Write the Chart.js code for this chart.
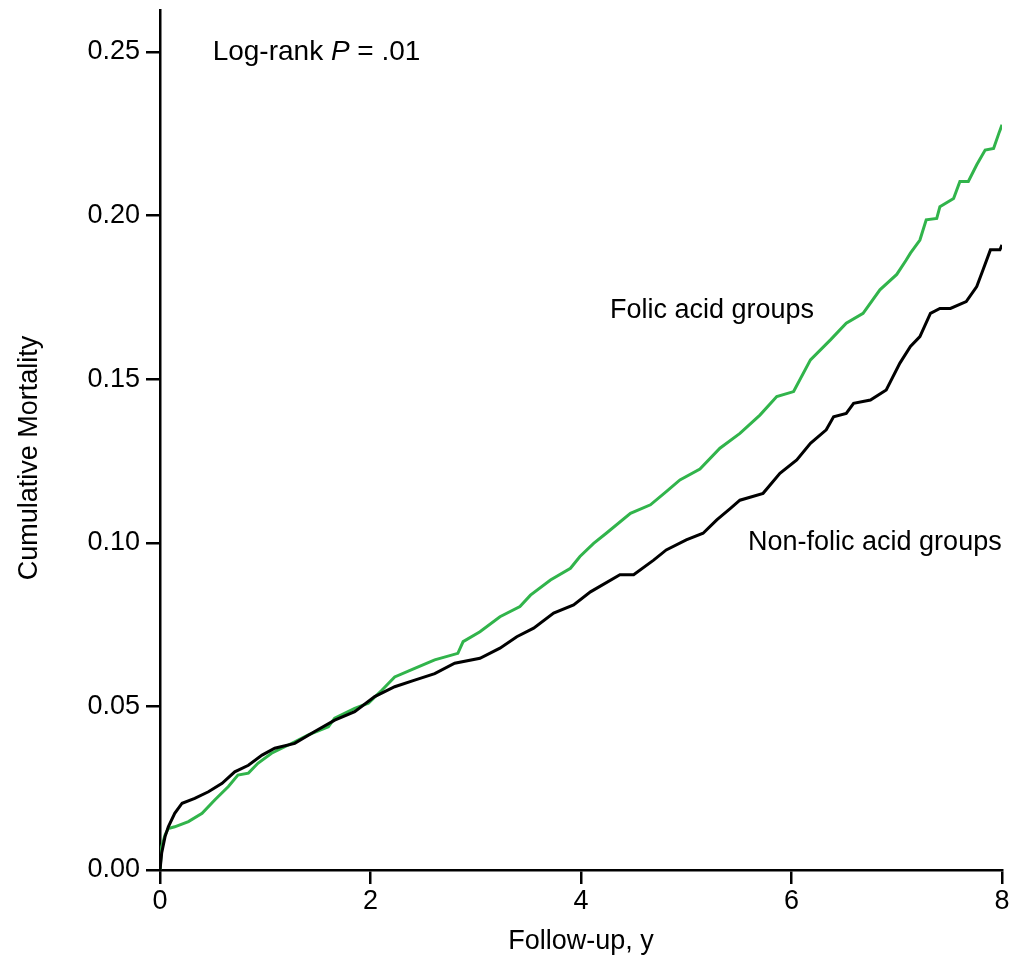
<!DOCTYPE html>
<html>
<head>
<meta charset="utf-8">
<script src="https://cdn.jsdelivr.net/npm/chart.js"></script>
<style>
  body { margin: 0; background: #fff; }
  #wrap { width: 1018px; height: 965px; }
</style>
</head>
<body>
<div id="wrap"><canvas id="km" width="1018" height="965"></canvas></div>
<script>
// follow-up time (years) and cumulative mortality
var nonFolicTime = [0, 0.016, 0.048, 0.079, 0.14, 0.21, 0.33, 0.46, 0.59, 0.71, 0.84, 0.97, 1.09, 1.28, 1.47, 1.66, 1.85, 2.04, 2.23, 2.42, 2.61, 2.80, 3.04, 3.23, 3.39, 3.55, 3.74, 3.93, 4.09, 4.37, 4.50, 4.69, 4.81, 5.00, 5.16, 5.29, 5.42, 5.51, 5.73, 5.89, 6.05, 6.18, 6.33, 6.40, 6.52, 6.59, 6.75, 6.90, 7.03, 7.13, 7.22, 7.32, 7.41, 7.51, 7.66, 7.76, 7.82, 7.89, 7.98, 8.0];
var nonFolicMort = [0, 0.0052, 0.0102, 0.0132, 0.0173, 0.0204, 0.0219, 0.0239, 0.0265, 0.030, 0.032, 0.0351, 0.0372, 0.0387, 0.0423, 0.0458, 0.0484, 0.053, 0.056, 0.058, 0.060, 0.0632, 0.0647, 0.0678, 0.0713, 0.0739, 0.0785, 0.081, 0.085, 0.0902, 0.0902, 0.0947, 0.0978, 0.1009, 0.1029, 0.107, 0.1105, 0.113, 0.1151, 0.1212, 0.1253, 0.1304, 0.1345, 0.1385, 0.1395, 0.1426, 0.1436, 0.1467, 0.1549, 0.16, 0.163, 0.1701, 0.1716, 0.1716, 0.1737, 0.1783, 0.1834, 0.1895, 0.1895, 0.191];

var folicTime = [0, 0.016, 0.048, 0.079, 0.14, 0.27, 0.40, 0.52, 0.65, 0.74, 0.84, 0.93, 1.06, 1.22, 1.41, 1.60, 1.66, 1.85, 1.98, 2.11, 2.23, 2.42, 2.61, 2.83, 2.88, 3.04, 3.23, 3.42, 3.52, 3.71, 3.90, 3.99, 4.12, 4.24, 4.47, 4.66, 4.81, 4.94, 5.13, 5.32, 5.51, 5.70, 5.86, 6.02, 6.18, 6.37, 6.52, 6.68, 6.84, 7.00, 7.09, 7.13, 7.22, 7.28, 7.38, 7.41, 7.54, 7.60, 7.68, 7.76, 7.84, 7.92, 7.97, 8.0];
var folicMort = [0, 0.0071, 0.0107, 0.0127, 0.0132, 0.0148, 0.0173, 0.0214, 0.0255, 0.029, 0.0296, 0.0326, 0.0357, 0.0382, 0.0413, 0.0438, 0.0464, 0.0494, 0.051, 0.055, 0.059, 0.0616, 0.0642, 0.0662, 0.0698, 0.0728, 0.0774, 0.0805, 0.084, 0.0886, 0.0922, 0.0958, 0.0998, 0.1029, 0.109, 0.1116, 0.1156, 0.1192, 0.1225, 0.1289, 0.1334, 0.139, 0.1447, 0.1462, 0.1559, 0.162, 0.1671, 0.1701, 0.1773, 0.182, 0.1864, 0.1885, 0.1925, 0.1987, 0.1991, 0.2027, 0.2052, 0.2104, 0.2104, 0.2155, 0.220, 0.2205, 0.2251, 0.2277];

var yTicks = [0, 0.05, 0.10, 0.15, 0.20, 0.25];
var xTicks = [0, 2, 4, 6, 8];

function toPoints(xs, ys) {
  return xs.map(function (x, i) { return { x: x, y: ys[i] }; });
}

var FONT = "'Liberation Sans', Arial, sans-serif";

// text labels inside the plot
var notes = {
  id: "notes",
  afterDraw: function (chart) {
    var c = chart.ctx, sx = chart.scales.x, sy = chart.scales.y;
    c.save();
    c.fillStyle = "#000";
    c.textBaseline = "middle";
    c.textAlign = "left";
    c.font = "28px " + FONT;

    var x = sx.getPixelForValue(0.5), y = sy.getPixelForValue(0.25);
    c.fillText("Log-rank ", x, y);
    x += c.measureText("Log-rank ").width;
    c.font = "italic 28px " + FONT;
    c.fillText("P", x, y);
    x += c.measureText("P").width;
    c.font = "28px " + FONT;
    c.fillText(" = .01", x, y);

    c.font = "27px " + FONT;
    c.fillText("Folic acid groups", sx.getPixelForValue(4.275), sy.getPixelForValue(0.171));
    c.fillText("Non-folic acid groups", sx.getPixelForValue(5.587), sy.getPixelForValue(0.1002));

    // y axis title
    c.translate(30, 458);
    c.rotate(-Math.PI / 2);
    c.textAlign = "center";
    c.fillText("Cumulative Mortality", 0, 0);
    c.restore();
  }
};

new Chart(document.getElementById("km"), {
  type: "line",
  data: {
    datasets: [{
      label: "Non-folic acid groups",
      data: toPoints(nonFolicTime, nonFolicMort),
      borderColor: "#000000",
      borderWidth: 3,
      pointRadius: 0,
      tension: 0,
      fill: false
    }, {
      label: "Folic acid groups",
      data: toPoints(folicTime, folicMort),
      borderColor: "#31b44b",
      borderWidth: 3,
      pointRadius: 0,
      tension: 0,
      fill: false
    }]
  },
  options: {
    responsive: false,
    animation: false,
    layout: { padding: { top: 10, right: 16, left: 0, bottom: 0 } },
    plugins: {
      legend: { display: false },
      tooltip: { enabled: false }
    },
    scales: {
      x: {
        type: "linear",
        min: 0,
        max: 8,
        afterBuildTicks: function (s) { s.ticks = xTicks.map(function (v) { return { value: v }; }); },
        afterFit: function (s) { s.height = 95; s.paddingLeft = 0; s.paddingRight = 0; },
        border: { color: "#000", width: 2.5 },
        grid: { drawOnChartArea: false, drawTicks: true, tickLength: 14, tickColor: "#000", lineWidth: 2.5 },
        ticks: { color: "#000", padding: 1, font: { family: FONT, size: 27 }, maxRotation: 0 },
        title: { display: true, text: "Follow-up, y", color: "#000", font: { family: FONT, size: 27 }, padding: { top: 0, bottom: 7 } }
      },
      y: {
        type: "linear",
        min: 0,
        max: 0.2628,
        afterBuildTicks: function (s) { s.ticks = yTicks.map(function (v) { return { value: v }; }); },
        afterFit: function (s) { s.width = 160; s.paddingTop = 0; s.paddingBottom = 0; },
        border: { color: "#000", width: 2.5 },
        grid: { drawOnChartArea: false, drawTicks: true, tickLength: 14, tickColor: "#000", lineWidth: 2.5 },
        ticks: {
          color: "#000",
          padding: 6,
          font: { family: FONT, size: 27 },
          callback: function (v) { return v.toFixed(2); }
        }
      }
    }
  },
  plugins: [notes]
});
</script>
</body>
</html>
